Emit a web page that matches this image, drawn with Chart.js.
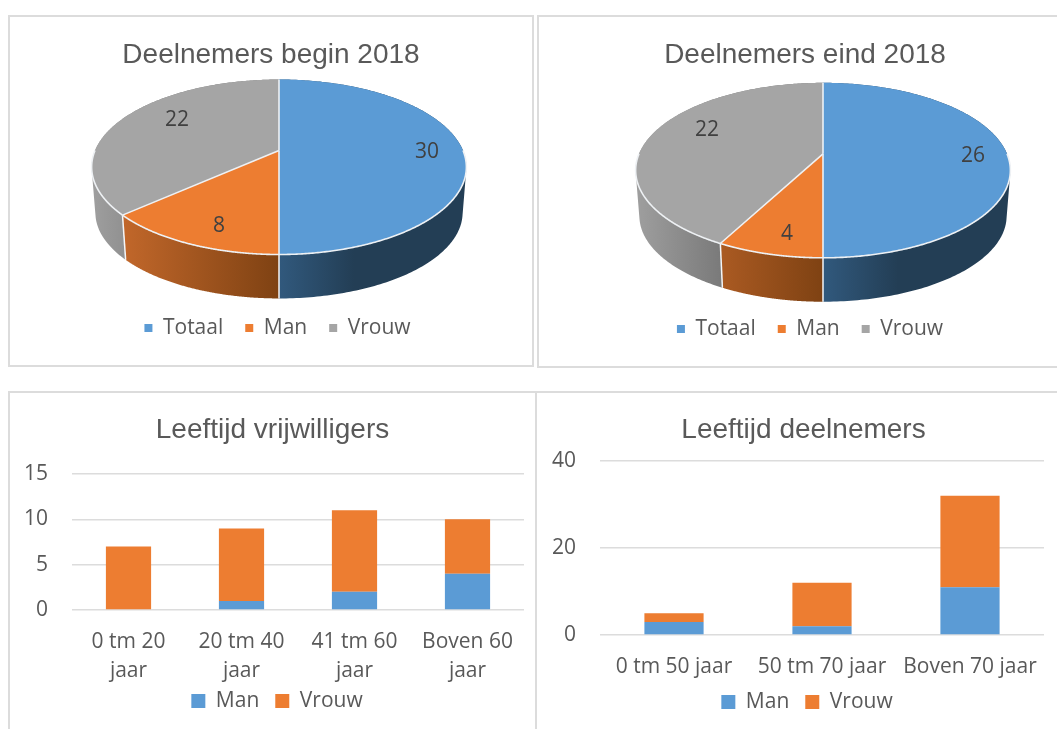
<!DOCTYPE html>
<html><head><meta charset="utf-8">
<script src="https://cdn.jsdelivr.net/npm/chart.js@4"></script>
<style>
html,body{margin:0;padding:0;background:#fff;overflow:hidden;width:1057px;height:729px}
.p{position:absolute;box-sizing:border-box;border:2px solid #dcdcdc}
canvas{position:absolute}
</style></head><body>
<div class="p" style="left:8px;top:15px;width:526px;height:352px"></div>
<div class="p" style="left:537px;top:15px;width:540px;height:353px"></div>
<div class="p" style="left:8px;top:391px;width:560px;height:360px;border-right:none"></div>
<div class="p" style="left:535px;top:391px;width:540px;height:360px"></div>
<canvas id="c1" style="left:8px;top:16px" width="525" height="350"></canvas>
<canvas id="c2" style="left:537px;top:16px" width="520" height="351"></canvas>
<canvas id="c3" style="left:8px;top:392px" width="525" height="337"></canvas>
<canvas id="c4" style="left:537px;top:392px" width="520" height="337"></canvas>
<script>
const pieLabels = ['Totaal','Man','Vrouw'];
const pieBegin = [30,8,22];
const pieEind = [26,4,22];
const pieColors = ['#5b9bd5','#ed7d31','#a5a5a5'];
const ageVrijCats = [['0 tm 20','jaar'],['20 tm 40','jaar'],['41 tm 60','jaar'],['Boven 60','jaar']];
const ageVrijMan = [0,1,2,4];
const ageVrijVrouw = [7,8,9,6];
const ageDeelCats = ['0 tm 50 jaar','50 tm 70 jaar','Boven 70 jaar'];
const ageDeelMan = [3,2,11];
const ageDeelVrouw = [2,10,21];
const TXT='#595959', SANS='"Open Sans"', TITLE='"Liberation Sans"';
const FS=21;

/* moves the title and legend to their own centres, lets tick labels run past the axis box */
const centrePlugin={id:'centre',afterLayout(chart,a,o){
  [[chart.titleBlock,o.title],[chart.legend,o.legend]].forEach(([b,c])=>{
    if(!b||c==null)return; const d=c-(b.left+b.right)/2; b.left+=d; b.right+=d;
  });
  const l=chart.legend;
  if(l&&o.legendY!=null){const h=l.bottom-l.top; l.top=o.legendY-(o.legendPad+8.5); l.bottom=l.top+h;}
  if(chart.scales.x) chart.scales.x.bottom=chart.height;
}};

/* tilted pie with a wall, drawn from the library's own arc elements */
const pie3d={id:'pie3d',beforeDatasetDraw(chart,args,o){
  if(!o.on)return;
  const c=chart.ctx, arcs=args.meta.data, n=200;
  const K=-0.1886, DEPTH=46, SH=0.98;
  const cols=chart.data.datasets[0].backgroundColor;
  const first=arcs[0], cx=first.x, cy=first.y+o.dy, R=first.outerRadius;
  const BX=1.84*R, AY=0.844*R;
  const P=(t,f=1,s=1,d=0)=>{const u=Math.cos(t)*f,v=Math.sin(t)*f,q=1+K*v;
    return [cx+BX*u/q*s, cy+AY*v/q*s+d];};
  const grads=[
    [[0,'#31597d'],[75,'#233e55'],[200,'#233e55']],
    [[-160,'#c3682b'],[-1,'#7f4213']],
    [[-190,'#a0a0a0'],[-95,'#777777']]
  ];
  arcs.forEach((el,i)=>{
    const a0=el.startAngle,a1=el.endAngle;
    c.beginPath();
    for(let j=0;j<n;j++){
      const t0=a0+(a1-a0)*j/n,t1=a0+(a1-a0)*(j+1)/n;
      let q=[P(t0),P(t1),P(t1,1,SH,DEPTH),P(t0,1,SH,DEPTH)];
      let area=0;
      q.forEach((p,m)=>{const r=q[(m+1)%4];area+=p[0]*r[1]-r[0]*p[1];});
      if(area<0)q=q.reverse();
      c.moveTo(...q[0]);c.lineTo(...q[1]);c.lineTo(...q[2]);c.lineTo(...q[3]);c.closePath();
    }
    const st=grads[i], g=c.createLinearGradient(cx+st[0][0],0,cx+st[st.length-1][0],0);
    const w=st[st.length-1][0]-st[0][0];
    st.forEach(s=>g.addColorStop((s[0]-st[0][0])/w,s[1]));
    c.fillStyle=g;c.fill();
  });
  c.lineWidth=1.5;c.strokeStyle='#f4f6f8';
  arcs.forEach(el=>{
    const t=el.startAngle; 
    if(Math.sin(t)>0){const p=P(t),q=P(t,1,SH,DEPTH);c.beginPath();c.moveTo(...p);c.lineTo(...q);c.stroke();}
  });
  arcs.forEach((el,i)=>{
    const a0=el.startAngle,a1=el.endAngle;
    c.beginPath();c.moveTo(cx,cy);
    for(let j=0;j<=n;j++){c.lineTo(...P(a0+(a1-a0)*j/n));}
    c.closePath();c.fillStyle=cols[i];c.fill();
  });
  c.lineWidth=1.6;c.strokeStyle='#eef1f4';
  arcs.forEach(el=>{
    c.beginPath();c.moveTo(cx,cy);c.lineTo(...P(el.startAngle));c.stroke();
    const a0=Math.max(el.startAngle,0),a1=Math.min(el.endAngle,Math.PI);
    if(a1>a0){c.beginPath();for(let j=0;j<=n;j++){const p=P(a0+(a1-a0)*j/n);j?c.lineTo(...p):c.moveTo(...p);}c.stroke();}
  });
  c.fillStyle='#404040';c.font=FS+'px '+SANS;c.textAlign='center';c.textBaseline='middle';
  chart.data.datasets[0].data.forEach((v,i)=>c.fillText(String(v),cx+o.labelAt[i][0],cy+o.labelAt[i][1]));
  return false;
}};
Chart.register(centrePlugin,pie3d);

function pieChart(id,title,data,o){
  const LP=22;
  return new Chart(document.getElementById(id),{type:'pie',
    data:{labels:pieLabels,datasets:[{data,backgroundColor:pieColors,borderWidth:0,radius:100}]},
    options:{responsive:false,animation:false,
      layout:{padding:{left:o.padLeft,right:0,top:0,bottom:0}},
      plugins:{
        title:{display:true,text:title,color:TXT,font:{family:TITLE,size:o.titleSize,weight:'normal'},padding:{top:o.titleTop,bottom:10}},
        legend:{position:'bottom',labels:{color:TXT,font:{family:SANS,size:FS},boxWidth:8,boxHeight:8,padding:LP}},
        tooltip:{enabled:false},
        centre:{title:o.titleCx,legend:o.legCx,legendY:o.legY,legendPad:LP},
        pie3d:{on:true,dy:o.dy,labelAt:o.labelAt}
      }}});
}
function barChart(id,title,cats,man,vrouw,o){
  const LP=16;
  return new Chart(document.getElementById(id),{type:'bar',
    data:{labels:cats,datasets:[
      {label:'Man',data:man,backgroundColor:'#5b9bd5',barPercentage:0.4,categoryPercentage:1},
      {label:'Vrouw',data:vrouw,backgroundColor:'#ed7d31',barPercentage:0.4,categoryPercentage:1}]},
    options:{responsive:false,animation:false,
      layout:{padding:{left:0,right:o.padRight,top:0,bottom:0}},
      scales:{
        x:{stacked:true,grid:{display:false},border:{display:false},
           ticks:{color:TXT,font:{family:SANS,size:FS,lineHeight:o.lh},padding:o.tickPad,maxRotation:0,autoSkip:false},
           afterFit(s){s.height=o.xH;}},
        y:{stacked:true,min:0,max:o.max,grid:{color:'#dcdcdc',lineWidth:1.6,drawTicks:false},border:{display:false},
           ticks:{color:TXT,font:{family:SANS,size:FS},stepSize:o.step,padding:o.yPad},
           afterFit(s){s.width=o.yW;}}
      },
      plugins:{
        title:{display:true,text:title,color:TXT,font:{family:TITLE,size:o.titleSize,weight:'normal'},padding:{top:o.titleTop,bottom:o.titleBottom}},
        legend:{position:'bottom',labels:{color:TXT,font:{family:SANS,size:FS},boxWidth:14,boxHeight:14,padding:LP}},
        tooltip:{enabled:false},
        centre:{title:o.titleCx,legend:o.legCx,legendY:o.legY,legendPad:LP},
        pie3d:{on:false}
      }}});
}
document.fonts.ready.then(()=>{
pieChart('c1','Deelnemers begin 2018',pieBegin,{padLeft:17,titleSize:28,titleTop:22,titleCx:263,legCx:269.5,legY:310,dy:-46.8,
  labelAt:[[148,2],[-60,76],[-102,-30]]});
pieChart('c2','Deelnemers eind 2018',pieEind,{padLeft:52,titleSize:28,titleTop:22,titleCx:268,legCx:273,legY:311,dy:-44,
  labelAt:[[150,2],[-36,80],[-116,-24]]});
barChart('c3','Leeftijd vrijwilligers',ageVrijCats,ageVrijMan,ageVrijVrouw,{padRight:9,titleSize:28,titleTop:21,titleBottom:27.4,
  lh:1.38,tickPad:10,xH:72,yW:64,yPad:24,max:15,step:5,titleCx:264.5,legCx:269,legY:307});
barChart('c4','Leeftijd deelnemers',ageDeelCats,ageDeelMan,ageDeelVrouw,{padRight:13,titleSize:28,titleTop:21,titleBottom:14.4,
  lh:1.38,tickPad:10,xH:47,yW:63,yPad:24,max:40,step:20,titleCx:266.5,legCx:270,legY:308});
});
</script></body></html>
